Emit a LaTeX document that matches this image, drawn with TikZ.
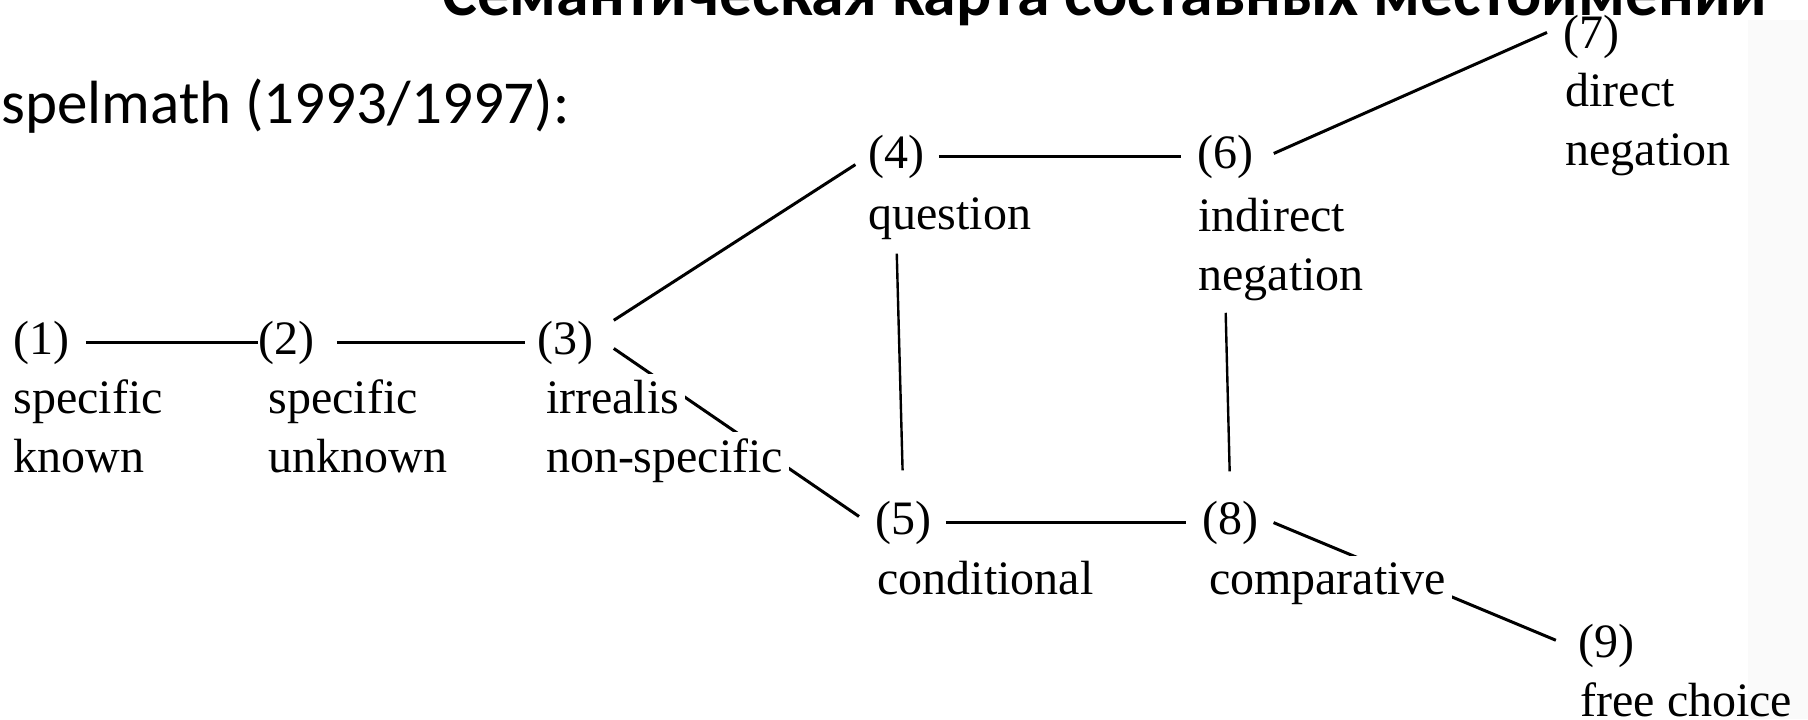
\documentclass[tikz,border=0pt]{standalone}
\usepackage{fontspec}
\newfontfamily\bookfont{Liberation Serif}
\newfontfamily\slidefont{Carlito}
\usetikzlibrary{backgrounds}

\begin{document}
\begin{tikzpicture}[x=0.5pt,y=-0.5pt,
  num/.style={inner sep=0pt,anchor=base west,font=\bookfont\fontsize{24}{29.5}\selectfont},
  lab/.style={num,align=left},
  cut/.style={fill=white,draw=white,line width=6pt},
  link/.style={line width=1.5pt,shorten <=7pt,shorten >=8pt}]
  \useasboundingbox (0,0) rectangle (1808,719);
  \clip (0,0) rectangle (1808,719);
  % slide title and source line, cut off by the frame
  \node[anchor=base west,inner sep=0pt,font=\slidefont\bfseries\fontsize{32.9}{38}\selectfont] (title) at (442,15) {Семантическая карта составных местоимений};
  \node[anchor=base west,inner sep=0pt,font=\slidefont\fontsize{30.5}{36}\selectfont] (src) at (-66,123) {Haspelmath (1993/1997):};
  % functions (labels are set by their last line)
  \foreach \i/\x/\y in {1/13/354,2/258/354,3/537/354,4/868/168,5/875/534,6/1197/168,7/1563/48,8/1202/534,9/1578/657}
    \node[num] (n\i) at (\x,\y) {(\i)};
  \node[lab] (l1) at (13,472) {specific\\known};
  \node[lab] (l2) at (268,472) {specific\\unknown};
  \node[num,cut] (l3a) at (540,413) {irrealis};
  \node[num,cut] (l3b) at (540,472) {non-specific};
  \node[lab] (l4) at (868,229) {question};
  \node[lab] (l5) at (877,594) {conditional};
  \node[lab] (l6) at (1198,290) {indirect\\negation};
  \node[lab] (l7) at (1565,165) {direct\\negation};
  \node[num,cut] (l8) at (1203,594) {comparative};
  \node[lab] (l9) at (1580,716) {free choice};
  % links of the map
  \begin{pgfonlayer}{background}
    \fill[gray!4] (1748,20) rectangle (1808,719);
    \draw[link,shorten <=8pt,shorten >=0pt] (n1.east) -- (n2.west);
    \draw[link,shorten <=11pt,shorten >=6pt] (n2.east) -- (n3.west);
    \draw[link] (n4.east) -- (n6.west);
    \draw[link] (n5.east) -- (n8.west);
    \draw[link,shorten <=0pt,shorten >=7.5pt] ([xshift=10pt]n3.north east) -- (n4.west);
    \draw[link,shorten <=0pt,shorten >=0pt] ([xshift=10pt,yshift=-3pt]n3.east) -- ([xshift=-8pt,yshift=3pt]n5.west);
    \draw[link,shorten <=0pt,shorten >=0pt] ([xshift=10pt,yshift=1.5pt]n6.east) -- ([xshift=-8pt,yshift=2pt]n7.west);
    \draw[link,line width=1.2pt,shorten >=15pt] (l4.south -| n4) -- (n5.north);
    \draw[link,line width=1.2pt,shorten <=6pt,shorten >=14.5pt] (l6.south -| n6) -- (n8.north);
    \draw[link,shorten <=8pt,shorten >=12pt] ([yshift=3pt]n8.east) -- ([yshift=-2pt]n9.west);
  \end{pgfonlayer}
\end{tikzpicture}
\end{document}
